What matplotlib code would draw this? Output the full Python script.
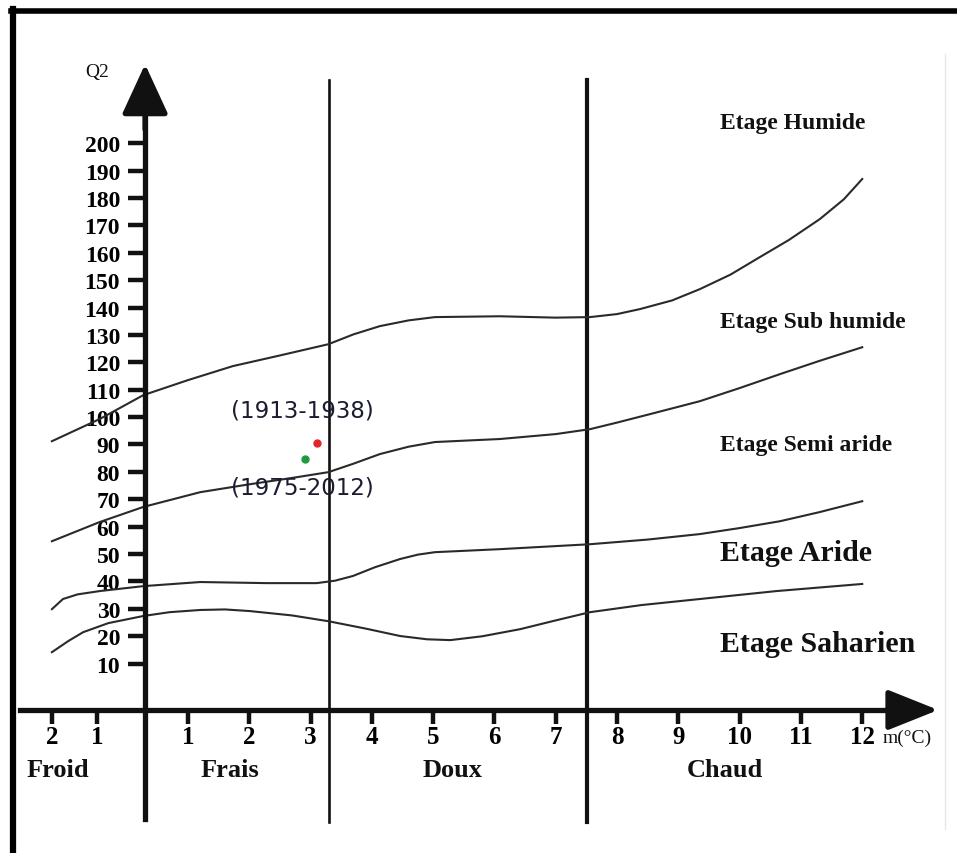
import matplotlib
matplotlib.use("Agg")
import matplotlib.pyplot as plt
from matplotlib.lines import Line2D

# Emberger climagram: m (°C) on x, Q2 on y
# limit curves between the bioclimatic stages
humide_m = [-1.22, -0.44, 0.27, 1.0, 1.73, 2.5, 3.29, 3.7, 4.13, 4.6, 5.03, 6.09, 7.0, 7.56, 8.0, 8.37, 8.9, 9.35, 9.85, 10.33, 10.8, 11.31, 11.7, 12.0]
humide_q = [91.2, 99.3, 108.0, 113.5, 118.6, 122.5, 126.6, 130.2, 133.2, 135.3, 136.5, 136.8, 136.3, 136.5, 137.6, 139.4, 142.6, 146.7, 152.0, 158.4, 164.6, 172.3, 179.5, 186.9]

subhum_m = [-1.22, -0.44, 0.27, 1.2, 2.01, 2.7, 3.29, 3.7, 4.13, 4.6, 5.03, 6.09, 7.0, 7.56, 8.0, 8.54, 9.35, 10.0, 10.66, 11.3, 12.0]
subhum_q = [54.7, 61.7, 67.2, 72.6, 75.5, 77.8, 79.9, 83.0, 86.5, 89.2, 90.9, 92.0, 93.8, 95.6, 98.0, 101.1, 105.8, 110.6, 115.7, 120.5, 125.5]

semiar_m = [-1.22, -1.04, -0.8, -0.44, 0.27, 1.2, 2.29, 3.1, 3.4, 3.69, 4.05, 4.46, 4.75, 5.03, 6.09, 7.56, 8.5, 9.35, 10.0, 10.66, 11.3, 12.0]
semiar_q = [29.9, 33.6, 35.3, 36.5, 38.3, 39.8, 39.4, 39.4, 40.3, 42.0, 45.2, 48.2, 49.8, 50.7, 51.8, 53.6, 55.3, 57.3, 59.5, 62.0, 65.3, 69.3]

aride_m = [-1.22, -0.95, -0.71, -0.3, 0.27, 0.7, 1.2, 1.6, 2.01, 2.7, 3.29, 3.9, 4.46, 4.9, 5.28, 5.8, 6.42, 7.0, 7.56, 8.4, 9.35, 10.6, 12.0]
aride_q = [14.2, 18.3, 21.5, 24.8, 27.4, 28.8, 29.6, 29.8, 29.2, 27.6, 25.5, 22.8, 20.1, 18.9, 18.6, 20.0, 22.6, 25.8, 28.8, 31.4, 33.6, 36.5, 39.1]

# station points
periods = ["(1913-1938)", "(1975-2012)"]
period_m = [3.10, 2.91]
period_q = [90.5, 84.7]
period_colors = ["#e3262b", "#1f9a3c"]

# ticks
xtick_pos = [-1.22, -0.48, 1, 2, 3, 4, 5, 6, 7, 8, 9, 10, 11, 12]
xtick_lab = ["2", "1", "1", "2", "3", "4", "5", "6", "7", "8", "9", "10", "11", "12"]
ytick_pos = list(range(10, 210, 10))

# temperature classes and stages
classes = ["Froid", "Frais", "Doux", "Chaud"]
class_m = [-1.12, 1.69, 5.32, 9.76]
class_bounds = [3.30, 7.51]
stages = ["Etage Humide", "Etage Sub humide", "Etage Semi aride", "Etage Aride", "Etage Saharien"]
stage_q = [207.7, 135.0, 90.1, 50.7, 17.2]
stage_size = [17, 17, 17, 21.5, 21.5]

SERIF = "Liberation Serif"
ink = "#111111"

fig = plt.figure(figsize=(9.57, 8.54), dpi=100)
ax = fig.add_axes([0, 0, 1, 1])
ax.set_xlim(-2.067, 13.546)
ax.set_ylim(-59.1, 252.6)

for s in ["top", "right"]:
    ax.spines[s].set_visible(False)
ax.spines["left"].set_position(("data", 0.3))
ax.spines["left"].set_bounds(-46.7, 215)
ax.spines["bottom"].set_position(("data", -6.9))
ax.spines["bottom"].set_bounds(-1.74, 12.8)
for s in ["left", "bottom"]:
    ax.spines[s].set_linewidth(3.8)
    ax.spines[s].set_color(ink)

ax.set_yticks(ytick_pos)
ax.set_yticklabels([str(v) for v in ytick_pos], fontfamily=SERIF, fontweight="bold", fontsize=17)
ax.tick_params(axis="y", direction="out", length=12, width=3.2, pad=6, color=ink)
ax.set_xticks(xtick_pos)
ax.set_xticklabels(xtick_lab, fontfamily=SERIF, fontweight="bold", fontsize=18)
ax.tick_params(axis="x", direction="out", length=10, width=3.2, pad=1, color=ink)

# arrow heads
ax.annotate("", xy=(0.3, 228.8), xytext=(0.3, 205),
            arrowprops=dict(arrowstyle="-|>,head_length=1.15,head_width=0.53",
                            mutation_scale=27, lw=3.8, color=ink, shrinkA=0, shrinkB=0))
ax.annotate("", xy=(13.24, -6.9), xytext=(12.4, -6.9),
            arrowprops=dict(arrowstyle="-|>,head_length=1.15,head_width=0.46",
                            mutation_scale=27, lw=3.8, color=ink, shrinkA=0, shrinkB=0))

# class boundaries
ax.plot([class_bounds[0]] * 2, [-47.8, 223], color=ink, lw=1.9)
ax.plot([class_bounds[1]] * 2, [-47.8, 223], color=ink, lw=3.0)

# stage limit curves
for xs, ys in [(humide_m, humide_q), (subhum_m, subhum_q), (semiar_m, semiar_q), (aride_m, aride_q)]:
    ax.plot(xs, ys, color="#2a2a2a", lw=1.5, solid_joinstyle="round")

# points and period labels
for m, q, c in zip(period_m, period_q, period_colors):
    ax.plot(m, q, "o", ms=5, color=c, mec=c)
ax.text(2.86, 102.6, periods[0], ha="center", va="center", fontsize=16.5,
        family="DejaVu Sans", color="#1c1c30")
ax.text(2.86, 74.5, periods[1], ha="center", va="center", fontsize=16.5,
        family="DejaVu Sans", color="#1c1c30")

for name, q, fs in zip(stages, stage_q, stage_size):
    ax.text(9.68, q, name, ha="left", va="center", fontsize=fs,
            family=SERIF, fontweight="bold", color=ink)

for name, m in zip(classes, class_m):
    ax.text(m, -28.5, name, ha="center", va="center", fontsize=19,
            family=SERIF, fontweight="bold", color=ink)

ax.text(12.34, -16.8, "m(°C)", ha="left", va="center", fontsize=14, family=SERIF, color=ink)
ax.text(-0.48, 226.3, "Q2", ha="center", va="center", fontsize=14, family=SERIF, color=ink)

# page frame (left and top edges of the scanned box) and faint right edge
fig.add_artist(Line2D([13 / 957, 13 / 957], [0, 1 - 10 / 854], color="black", lw=4.5))
fig.add_artist(Line2D([11 / 957, 1], [1 - 12 / 854, 1 - 12 / 854], color="black", lw=4.0))
fig.add_artist(Line2D([945 / 957, 945 / 957], [1 - 55 / 854, 1 - 830 / 854], color="#e6e6e6", lw=1.0))

fig.savefig("out.png", dpi=100)
